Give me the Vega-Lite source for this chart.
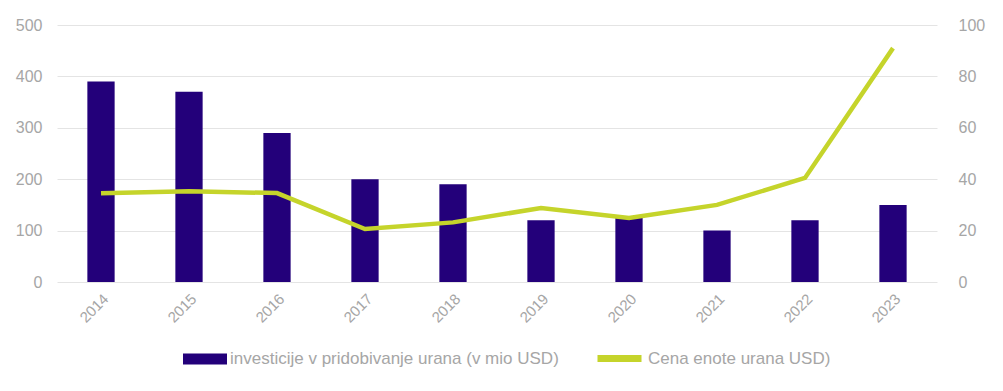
{
  "$schema": "https://vega.github.io/schema/vega-lite/v6.json",
  "width": 880,
  "height": 257,
  "autosize": {"type": "none"},
  "padding": {"left": 57, "top": 25, "right": 66, "bottom": 109},
  "background": "white",
  "data": {"values": [
    {"year": "2014", "inv": 390, "price": 34.5},
    {"year": "2015", "inv": 370, "price": 35.3},
    {"year": "2016", "inv": 290, "price": 34.6},
    {"year": "2017", "inv": 200, "price": 20.6},
    {"year": "2018", "inv": 190, "price": 23.2},
    {"year": "2019", "inv": 120, "price": 28.8},
    {"year": "2020", "inv": 125, "price": 24.9},
    {"year": "2021", "inv": 100, "price": 30.0},
    {"year": "2022", "inv": 120, "price": 40.5},
    {"year": "2023", "inv": 150, "price": 91.0}
  ]},
  "config": {
    "view": {"stroke": null},
    "font": "Liberation Sans",
    "axis": {"labelFont": "Liberation Sans", "labelColor": "#a6a6a6", "labelFontSize": 16, "domain": false, "ticks": false, "gridColor": "#e4e4e4", "gridWidth": 1}
  },
  "encoding": {
    "x": {"field": "year", "type": "ordinal", "scale": {"paddingInner": 0.69, "paddingOuter": 0.345}, "axis": {"title": null, "labelAngle": -45, "labelPadding": 9, "labelDx": -5, "labelFontSize": 15}}
  },
  "layer": [
    {
      "mark": {"type": "bar", "color": "#23007a"},
      "encoding": {
        "y": {"field": "inv", "type": "quantitative", "scale": {"domain": [0, 500]}, "axis": {"title": null, "orient": "left", "values": [0, 100, 200, 300, 400, 500], "grid": true, "labelPadding": 15}},
        "fill": {"datum": "investicije v pridobivanje urana (v mio USD)", "type": "nominal", "scale": {"range": ["#23007a"]},
          "legend": {"title": null, "orient": "none", "legendX": 126, "legendY": 312, "padding": 0, "symbolType": "M-1,-0.25H1V0.25H-1Z", "symbolSize": 1936, "symbolStrokeWidth": 0, "labelFontSize": 17, "labelColor": "#a6a6a6", "labelOffset": 3, "labelLimit": 600}}
      }
    },
    {
      "mark": {"type": "line", "color": "#c5d42b", "strokeWidth": 4.5},
      "encoding": {
        "y": {"field": "price", "type": "quantitative", "scale": {"domain": [0, 100]}, "axis": {"title": null, "orient": "right", "values": [0, 20, 40, 60, 80, 100], "grid": false, "labelPadding": 21}},
        "stroke": {"datum": "Cena enote urana USD)", "type": "nominal", "scale": {"range": ["#c5d42b"]},
          "legend": {"title": null, "orient": "none", "legendX": 537, "legendY": 308, "padding": 0, "symbolType": "stroke", "symbolSize": 1936, "symbolStrokeWidth": 7, "labelFontSize": 17, "labelColor": "#a6a6a6", "labelOffset": 3, "labelLimit": 600}}
      }
    }
  ],
  "resolve": {"scale": {"y": "independent", "fill": "independent", "stroke": "independent"}}
}
